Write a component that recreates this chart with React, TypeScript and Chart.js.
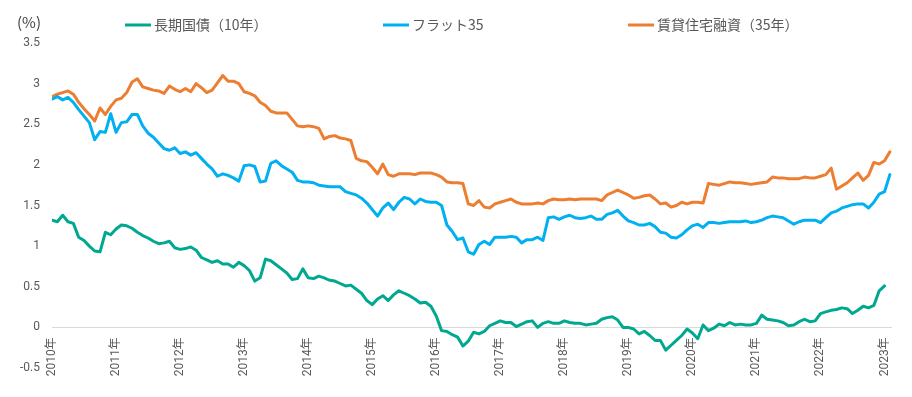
import React, { useEffect, useRef } from "react";
import { Chart, registerables } from "chart.js";

Chart.register(...registerables);

// Monthly series, Jan 2010 → Feb 2023 (index 0 = 2010-01)
const yearLabels = [
  "2010年", "2011年", "2012年", "2013年", "2014年", "2015年", "2016年",
  "2017年", "2018年", "2019年", "2020年", "2021年", "2022年", "2023年",
];

const seriesNames = ["長期国債（10年）", "フラット35", "賃貸住宅融資（35年）"];

const jgb10 = [
  1.32, 1.30, 1.38, 1.30, 1.28, 1.11, 1.07, 1.00, 0.94, 0.93, 1.17, 1.14,
  1.21, 1.26, 1.25, 1.22, 1.17, 1.13, 1.10, 1.06, 1.03, 1.04, 1.06, 0.98,
  0.96, 0.97, 0.99, 0.95, 0.86, 0.83, 0.80, 0.82, 0.78, 0.78, 0.74, 0.80,
  0.76, 0.70, 0.57, 0.61, 0.84, 0.82, 0.77, 0.72, 0.67, 0.59, 0.60, 0.72,
  0.61, 0.60, 0.63, 0.61, 0.58, 0.57, 0.54, 0.51, 0.52, 0.47, 0.42, 0.33,
  0.28, 0.35, 0.39, 0.33, 0.40, 0.45, 0.42, 0.39, 0.35, 0.30, 0.31, 0.26,
  0.14, -0.04, -0.05, -0.09, -0.12, -0.23, -0.17, -0.06, -0.08, -0.05, 0.02, 0.05,
  0.08, 0.06, 0.06, 0.01, 0.04, 0.07, 0.08, 0.00, 0.05, 0.07, 0.05, 0.05,
  0.08, 0.06, 0.05, 0.05, 0.03, 0.04, 0.05, 0.10, 0.12, 0.13, 0.09, 0.00,
  0.00, -0.02, -0.08, -0.05, -0.10, -0.16, -0.16, -0.28, -0.22, -0.16, -0.10, -0.02,
  -0.07, -0.14, 0.03, -0.04, -0.01, 0.04, 0.02, 0.06, 0.03, 0.04, 0.03, 0.03,
  0.05, 0.15, 0.10, 0.09, 0.08, 0.06, 0.02, 0.03, 0.07, 0.10, 0.07, 0.08,
  0.17, 0.19, 0.21, 0.22, 0.24, 0.23, 0.17, 0.21, 0.26, 0.24, 0.27, 0.45,
  0.51,
];

const flat35 = [
  2.81, 2.84, 2.80, 2.83, 2.77, 2.68, 2.60, 2.52, 2.31, 2.41, 2.40, 2.63,
  2.40, 2.52, 2.53, 2.62, 2.62, 2.48, 2.39, 2.34, 2.27, 2.20, 2.18, 2.21,
  2.14, 2.16, 2.12, 2.15, 2.08, 2.01, 1.95, 1.86, 1.89, 1.87, 1.84, 1.80,
  1.99, 2.00, 1.98, 1.79, 1.80, 2.02, 2.05, 1.99, 1.95, 1.91, 1.81, 1.79,
  1.79, 1.78, 1.75, 1.74, 1.73, 1.73, 1.73, 1.67, 1.65, 1.63, 1.59, 1.53,
  1.45, 1.37, 1.47, 1.53, 1.45, 1.54, 1.60, 1.58, 1.52, 1.58, 1.55, 1.54,
  1.54, 1.50, 1.26, 1.18, 1.08, 1.10, 0.93, 0.90, 1.02, 1.06, 1.02, 1.11,
  1.11, 1.11, 1.12, 1.11, 1.04, 1.08, 1.08, 1.11, 1.07, 1.35, 1.36, 1.33,
  1.36, 1.38, 1.35, 1.34, 1.35, 1.37, 1.33, 1.33, 1.39, 1.41, 1.44, 1.37,
  1.31, 1.29, 1.26, 1.26, 1.28, 1.24, 1.17, 1.16, 1.11, 1.10, 1.14, 1.20,
  1.25, 1.27, 1.23, 1.29, 1.29, 1.28, 1.29, 1.30, 1.30, 1.30, 1.31, 1.29,
  1.30, 1.32, 1.35, 1.37, 1.36, 1.35, 1.31, 1.27, 1.30, 1.32, 1.32, 1.32,
  1.29, 1.35, 1.41, 1.43, 1.47, 1.49, 1.51, 1.52, 1.52, 1.47, 1.54, 1.64,
  1.67, 1.88,
];

const rental35 = [
  2.84, 2.87, 2.89, 2.91, 2.87, 2.77, 2.69, 2.62, 2.54, 2.70, 2.62, 2.72,
  2.80, 2.82, 2.89, 3.02, 3.06, 2.96, 2.94, 2.92, 2.91, 2.88, 2.97, 2.93,
  2.90, 2.94, 2.90, 3.00, 2.95, 2.89, 2.92, 3.01, 3.10, 3.03, 3.03, 3.00,
  2.90, 2.88, 2.85, 2.77, 2.73, 2.66, 2.64, 2.64, 2.64, 2.56, 2.48, 2.47,
  2.48, 2.47, 2.45, 2.32, 2.35, 2.36, 2.33, 2.32, 2.30, 2.08, 2.05, 2.04,
  1.97, 1.89, 2.01, 1.88, 1.86, 1.89, 1.89, 1.89, 1.88, 1.90, 1.90, 1.90,
  1.88, 1.85, 1.79, 1.78, 1.78, 1.77, 1.52, 1.50, 1.56, 1.48, 1.47, 1.52,
  1.54, 1.56, 1.58, 1.54, 1.52, 1.52, 1.52, 1.53, 1.52, 1.56, 1.58, 1.57,
  1.57, 1.58, 1.57, 1.58, 1.58, 1.58, 1.58, 1.56, 1.63, 1.66, 1.69, 1.66,
  1.63, 1.59, 1.60, 1.62, 1.63, 1.58, 1.52, 1.53, 1.48, 1.50, 1.54, 1.52,
  1.54, 1.54, 1.53, 1.77, 1.76, 1.75, 1.77, 1.79, 1.78, 1.78, 1.77, 1.76,
  1.77, 1.78, 1.79, 1.85, 1.84, 1.84, 1.83, 1.83, 1.83, 1.85, 1.84, 1.84,
  1.86, 1.88, 1.96, 1.70, 1.74, 1.78, 1.84, 1.90, 1.81, 1.87, 2.03, 2.01,
  2.05, 2.16,
];

const yMin = -0.5;
const yMax = 3.5;
const yStep = 0.5;

const seriesColors = ["#00A88F", "#00B0F0", "#ED7D31"];
const legendStartX = [125, 383, 628];

const toPoints = (arr: number[]) => arr.map((v, i) => ({ x: i, y: v }));

const TEXT = "#595959";
const CJK = '"Noto Sans CJK JP", "Noto Sans", sans-serif';
const NUM = 'Roboto, "Noto Sans CJK JP", sans-serif';

const legendPlugin = {
  id: "customLegend",
  afterDraw(chart: any) {
    const ctx = chart.ctx;
    ctx.save();
    ctx.textBaseline = "middle";
    ctx.fillStyle = "#404040";
    ctx.font = `15px ${CJK}`;
    ctx.fillText("(%)", 17, 22);
    ctx.fillStyle = TEXT;
    ctx.font = `14px ${CJK}`;
    chart.data.datasets.forEach((ds: any, k: number) => {
      const x0 = legendStartX[k];
      ctx.strokeStyle = ds.borderColor;
      ctx.lineWidth = 3;
      ctx.beginPath();
      ctx.moveTo(x0, 25);
      ctx.lineTo(x0 + 26, 25);
      ctx.stroke();
      ctx.fillText(ds.label, x0 + 29, 25);
    });
    ctx.restore();
  },
};

export default function App() {
  const ref = useRef<HTMLCanvasElement | null>(null);

  useEffect(() => {
    if (!ref.current) return;
    const series = [jgb10, flat35, rental35];
    const chart = new Chart(ref.current, {
      type: "line",
      data: {
        datasets: series.map((arr, k) => ({
          label: seriesNames[k],
          data: toPoints(arr),
          borderColor: seriesColors[k],
          backgroundColor: seriesColors[k],
          borderWidth: 3,
          pointRadius: 0,
          tension: 0,
          borderJoinStyle: "round" as const,
          borderCapStyle: "round" as const,
          fill: false,
        })),
      },
      options: {
        animation: false,
        responsive: false,
        maintainAspectRatio: false,
        layout: { padding: { left: 8, right: 20, top: 43, bottom: 29 } },
        plugins: {
          legend: { display: false },
          tooltip: { enabled: false },
        },
        scales: {
          x: {
            type: "linear",
            min: 0,
            max: 157.4,
            position: { y: 0 } as any,
            afterFit: (s: any) => {
              s.height = 0;
            },
            afterBuildTicks: (s: any) => {
              s.ticks = yearLabels.map((_, k) => ({ value: k * 12 }));
            },
            grid: { display: false, drawTicks: false },
            border: { display: false },
            ticks: {
              autoSkip: false,
              minRotation: 90,
              maxRotation: 90,
              padding: 10,
              color: TEXT,
              font: { family: NUM, size: 12 },
              callback: (v: any) => yearLabels[Math.round(Number(v) / 12)] ?? "",
            },
          },
          y: {
            type: "linear",
            min: yMin,
            max: yMax,
            afterFit: (s: any) => {
              s.width = 44;
            },
            grid: {
              drawTicks: false,
              color: (c: any) => (c.tick && c.tick.value === 0 ? "#d9d9d9" : "rgba(0,0,0,0)"),
              lineWidth: 1,
            },
            border: { display: false },
            ticks: {
              stepSize: yStep,
              padding: 12,
              color: TEXT,
              font: { family: NUM, size: 12 },
              callback: (v: any) => String(Math.round(Number(v) * 10) / 10),
            },
          },
        },
      },
      plugins: [legendPlugin],
    });
    return () => chart.destroy();
  }, []);

  return (
    <div style={{ position: "fixed", left: 0, top: 0, width: 912, height: 397, background: "#fff" }}>
      <canvas ref={ref} width={912} height={397} style={{ display: "block" }} />
    </div>
  );
}
